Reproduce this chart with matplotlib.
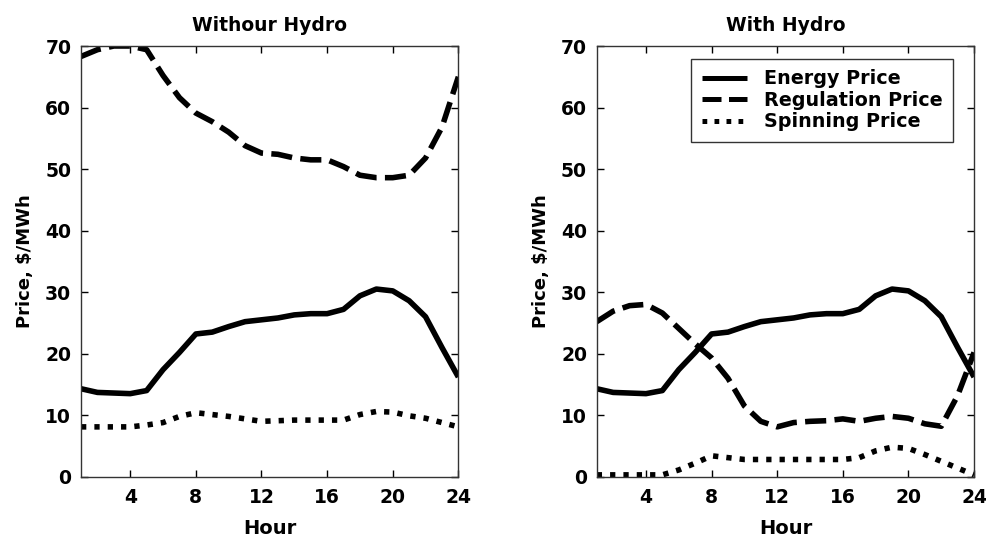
import matplotlib
matplotlib.use("Agg")
import matplotlib.pyplot as plt

hours = list(range(1, 25))

# prices in $/MWh
energy = [14.3, 13.7, 13.6, 13.5, 14.0, 17.4, 20.2, 23.2, 23.5, 24.4, 25.2, 25.5,
          25.8, 26.3, 26.5, 26.5, 27.2, 29.4, 30.5, 30.2, 28.6, 26.0, 21.0, 16.2]

reg_no_hydro = [68.3, 69.4, 70.0, 70.0, 69.4, 65.2, 61.6, 59.1, 57.7, 56.0, 53.8, 52.6,
                52.4, 51.8, 51.5, 51.5, 50.4, 49.0, 48.6, 48.6, 49.0, 51.8, 56.8, 65.0]
spin_no_hydro = [8.1, 8.1, 8.1, 8.1, 8.4, 8.8, 9.8, 10.4, 10.1, 9.8, 9.4, 9.0,
                 9.1, 9.2, 9.2, 9.2, 9.2, 10.1, 10.6, 10.5, 9.9, 9.5, 8.8, 8.1]

reg_hydro = [25.2, 26.9, 27.8, 28.0, 26.6, 24.1, 21.6, 19.3, 16.0, 11.5, 9.0, 8.1,
             8.8, 9.0, 9.1, 9.4, 9.0, 9.5, 9.8, 9.5, 8.6, 8.2, 13.2, 20.2]
spin_hydro = [0.3, 0.3, 0.3, 0.3, 0.3, 1.1, 2.2, 3.4, 3.1, 2.8, 2.8, 2.8,
              2.8, 2.8, 2.8, 2.8, 3.1, 4.2, 4.8, 4.6, 3.6, 2.5, 1.4, 0.3]

titles = ["Withour Hydro", "With Hydro"]
labels = ["Energy Price", "Regulation Price", "Spinning Price"]
x_ticks = [4, 8, 12, 16, 20, 24]
y_ticks = [0, 10, 20, 30, 40, 50, 60, 70]

plt.rcParams['font.family'] = ['DejaVu Sans']
plt.rcParams['font.weight'] = 'bold'

fig = plt.figure(figsize=(9.87, 5.4), dpi=100)
ax1 = fig.add_axes([0.0821, 0.1172, 0.3823, 0.7976])
ax2 = fig.add_axes([0.6046, 0.1172, 0.3823, 0.7976])

LW = 4.0
panels = [(ax1, reg_no_hydro, spin_no_hydro), (ax2, reg_hydro, spin_hydro)]
for i, (ax, reg, spin) in enumerate(panels):
    ax.plot(hours, energy, color='black', lw=LW, solid_capstyle='butt', label=labels[0])
    ax.plot(hours, reg, color='black', lw=LW, dashes=(3.8, 1.5), dash_capstyle='butt', label=labels[1])
    ax.plot(hours, spin, color='black', lw=LW, dashes=(0.95, 1.45), dash_capstyle='butt', label=labels[2])

    ax.set_xlim(1, 24)
    ax.set_ylim(0, 70)
    ax.set_xticks(x_ticks)
    ax.set_yticks(y_ticks)
    ax.tick_params(direction='in', top=True, right=True, length=5, width=1,
                   labelsize=13.5)
    ax.tick_params(axis='x', pad=8)
    ax.tick_params(axis='y', pad=7)
    for lab in ax.get_xticklabels() + ax.get_yticklabels():
        lab.set_fontweight('bold')
    for sp in ax.spines.values():
        sp.set_linewidth(1)
        sp.set_color('#333333')
    ax.set_title(titles[i], fontsize=13.5, fontweight='bold', pad=11)
    ax.set_xlabel("Hour", fontsize=14, fontweight='bold', labelpad=9)
    ax.set_ylabel("Price, $/MWh", fontsize=13, fontweight='bold', labelpad=8)

leg = ax2.legend(loc='upper right', bbox_to_anchor=(0.944, 0.970), borderaxespad=0,
                 fontsize=13.8, frameon=True, fancybox=False, handlelength=2.35,
                 handletextpad=0.88, borderpad=0.55, labelspacing=0.13)
leg.get_frame().set_edgecolor('black')
leg.get_frame().set_linewidth(1)
for h in leg.get_lines():
    h.set_linewidth(3.6)

fig.savefig("out.png", dpi=100)
